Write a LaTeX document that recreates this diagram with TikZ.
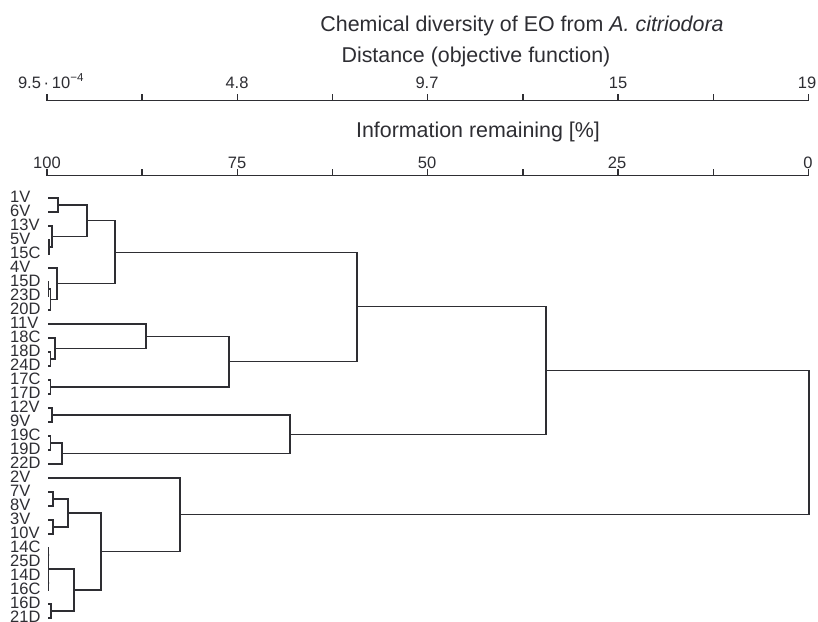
\documentclass[tikz,border=0pt]{standalone}
\usepackage{fontspec}
\setmainfont{Liberation Sans}
\definecolor{ink}{HTML}{2E2E33}
\newcommand\dmerge[3]{\draw[dline] (#2) -| (#1) |- (#3);}
\begin{document}
\begin{tikzpicture}[x=1pt,y=-1pt,
  dline/.style={draw=ink,line width=1.1pt},
  axisline/.style={draw=ink,line width=1.8pt},
  tickmark/.style={draw=ink,line width=1.4pt},
  leaflab/.style={anchor=base west,inner sep=0pt,text=ink,font=\fontsize{16.5}{16.5}\selectfont},
  axlab/.style={anchor=base,inner sep=0pt,text=ink,font=\fontsize{16.5}{16.5}\selectfont},
  ttl/.style={anchor=base,inner sep=0pt,text=ink,font=\fontsize{21.4}{21.4}\selectfont}]
\useasboundingbox[fill=white] (0,0) rectangle (818,621);
% titles
\node[ttl] (title) at (522,31.5) {Chemical diversity of EO from \textit{A. citriodora}};
\node[ttl] (dist) at (476,62) {Distance (objective function)};
\node[ttl] (info) at (478,137.5) {Information remaining [\%]};
% axes
\draw[axisline] (47,100.5) -- (808.5,100.5);
\draw[axisline] (47,175.5) -- (808.5,175.5);
\foreach \k in {0,...,8}{
  \draw[tickmark] ({47+95.19*\k},94) -- ({47+95.19*\k},100.5);
  \draw[tickmark] ({47+95.19*\k},169) -- ({47+95.19*\k},175.5);
}
\node[axlab] (d0) at (51,88) {9.5\,·\,10\textsuperscript{−4}};
\node[axlab] (d1) at (237,88) {4.8};
\node[axlab] (d2) at (427,88) {9.7};
\node[axlab] (d3) at (618,88) {15};
\node[axlab] (d4) at (807,88) {19};
\node[axlab] (i0) at (47,168) {100};
\node[axlab] (i1) at (237,168) {75};
\node[axlab] (i2) at (427,168) {50};
\node[axlab] (i3) at (617,168) {25};
\node[axlab] (i4) at (808,168) {0};
% leaves
\foreach \t [count=\i from 0] in {1V,6V,13V,5V,15C,4V,15D,23D,20D,11V,18C,18D,24D,17C,17D,12V,9V,19C,19D,22D,2V,7V,8V,3V,10V,14C,25D,14D,16C,16D,21D}{
  \coordinate (L\i) at (48,{198+14*\i});
  \node[leaflab] (lab\i) at (10,{202+14*\i}) {\t};
}
% merge points
\coordinate (A1) at (58,205);
\coordinate (A2a) at (49,247);
\coordinate (A2) at (52,236.5);
\coordinate (A3) at (87,220.75);
\coordinate (A4a) at (48.7,289);
\coordinate (A4b) at (50.5,299.5);
\coordinate (A4) at (57,283.75);
\coordinate (A5) at (115,252.25);
\coordinate (B1a) at (50.5,359);
\coordinate (B1) at (55,348.5);
\coordinate (B2) at (146,336.25);
\coordinate (B3a) at (50.5,387);
\coordinate (B3) at (229,361.6);
\coordinate (AB) at (357,306.9);
\coordinate (C1) at (52,415);
\coordinate (C2a) at (50.5,443);
\coordinate (C2) at (62,453.5);
\coordinate (C) at (290,434.25);
\coordinate (ABC) at (546,370.6);
\coordinate (D1a) at (53,499);
\coordinate (D1b) at (53,527);
\coordinate (D1) at (68,513);
\coordinate (D2a) at (48.6,555);
\coordinate (D2b) at (48.6,583);
\coordinate (D2) at (48.9,569);
\coordinate (D3a) at (51,611);
\coordinate (D3) at (74,590);
\coordinate (D4) at (101,551.5);
\coordinate (D5) at (180,514.75);
\coordinate (R) at (809,442.7);
% tree
\dmerge{A1}{L0}{L1}
\dmerge{A2a}{L3}{L4}
\dmerge{A2}{L2}{A2a}
\dmerge{A3}{A1}{A2}
\dmerge{A4a}{L6}{L7}
\dmerge{A4b}{A4a}{L8}
\dmerge{A4}{L5}{A4b}
\dmerge{A5}{A3}{A4}
\dmerge{B1a}{L11}{L12}
\dmerge{B1}{L10}{B1a}
\dmerge{B2}{L9}{B1}
\dmerge{B3a}{L13}{L14}
\dmerge{B3}{B2}{B3a}
\dmerge{AB}{A5}{B3}
\dmerge{C1}{L15}{L16}
\dmerge{C2a}{L17}{L18}
\dmerge{C2}{C2a}{L19}
\dmerge{C}{C1}{C2}
\dmerge{ABC}{AB}{C}
\dmerge{D1a}{L21}{L22}
\dmerge{D1b}{L23}{L24}
\dmerge{D1}{D1a}{D1b}
\dmerge{D2a}{L25}{L26}
\dmerge{D2b}{L27}{L28}
\dmerge{D2}{D2a}{D2b}
\dmerge{D3a}{L29}{L30}
\dmerge{D3}{D2}{D3a}
\dmerge{D4}{D1}{D3}
\dmerge{D5}{L20}{D4}
\dmerge{R}{ABC}{D5}
\end{tikzpicture}
\end{document}
